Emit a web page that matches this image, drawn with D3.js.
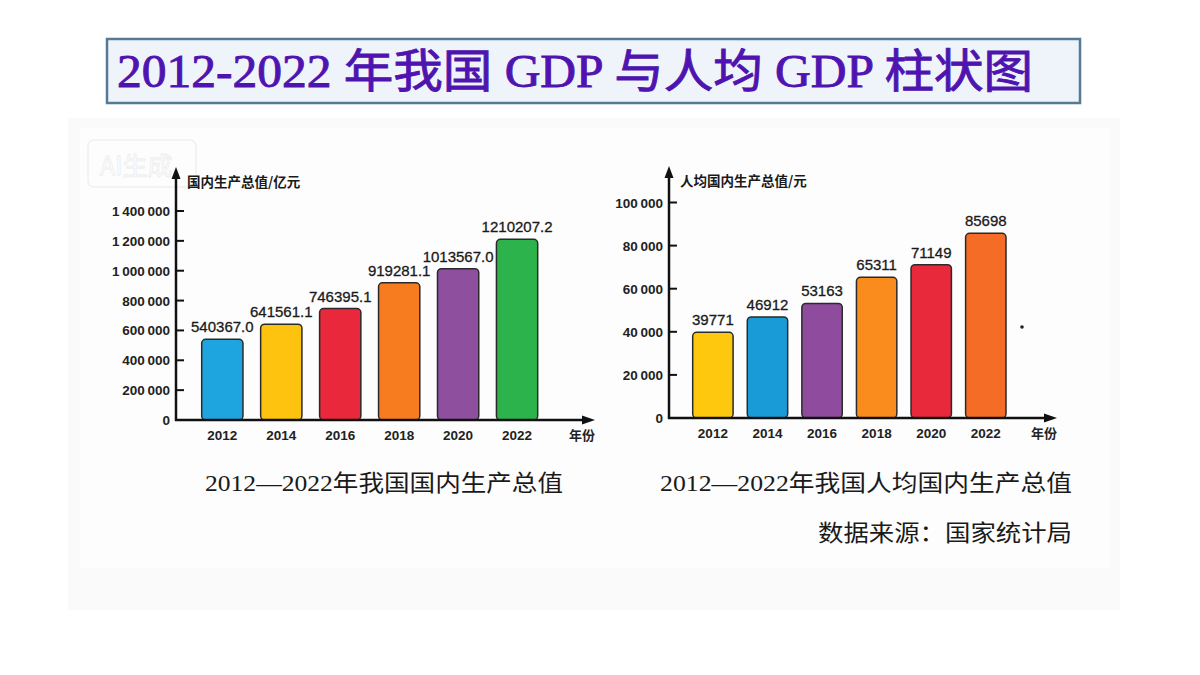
<!DOCTYPE html>
<html>
<head>
<meta charset="utf-8">
<script src="https://cdn.jsdelivr.net/npm/d3@7"></script>
<style>
  html, body { margin: 0; padding: 0; background: #fff; }
  svg { display: block; }
</style>
</head>
<body>
<svg id="chart" width="1200" height="675"></svg>
<script>
// data (国家统计局)
const years = ["2012", "2014", "2016", "2018", "2020", "2022"];
const gdpValues = [540367.0, 641561.1, 746395.1, 919281.1, 1013567.0, 1210207.2];
const gdpColors = ["#1ea4de", "#fec30f", "#e9283b", "#f77c1f", "#8f4f9f", "#2db34b"];
const gdpTicks = [0, 200000, 400000, 600000, 800000, 1000000, 1200000, 1400000];
const perCapitaValues = [39771, 46912, 53163, 65311, 71149, 85698];
const perCapitaColors = ["#fec80f", "#189bd6", "#8f4b9e", "#f98c1c", "#e8283b", "#f46c25"];
const perCapitaTicks = [0, 20000, 40000, 60000, 80000, 100000];

const titleText = "2012-2022 年我国 GDP 与人均 GDP 柱状图";

const svg = d3.select("#chart");
const fmtTick = d3.formatLocale({ decimal: ".", thousands: "\u2009", grouping: [3], currency: ["", ""] }).format(",d");

// faint photo background
svg.append("rect")
  .attr("x", 68).attr("y", 118).attr("width", 1052).attr("height", 492)
  .attr("fill", "#fafafa");
svg.append("rect")
  .attr("x", 80).attr("y", 128).attr("width", 1030).attr("height", 440)
  .attr("fill", "#fdfdfd");

// title box
svg.append("rect")
  .attr("x", 107).attr("y", 39).attr("width", 973).attr("height", 64)
  .attr("fill", "#eff4fb").attr("stroke", "#557a95").attr("stroke-width", 2.5);
svg.append("text")
  .attr("x", 117).attr("y", 87)
  .attr("font-family", "'Liberation Serif', 'Noto Sans CJK SC', serif")
  .attr("font-size", 46)
  .attr("fill", "#4f14b0").attr("stroke", "#4f14b0").attr("stroke-width", 0.9)
  .attr("textLength", 916).attr("lengthAdjust", "spacingAndGlyphs")
  .text(titleText);

// watermark
svg.append("rect")
  .attr("x", 88).attr("y", 140).attr("width", 108).attr("height", 47).attr("rx", 6)
  .attr("fill", "none").attr("stroke", "#efefef").attr("stroke-width", 1.5);
svg.append("text")
  .attr("x", 100).attr("y", 175)
  .attr("font-family", "'Noto Sans CJK SC', sans-serif")
  .attr("font-size", 25)
  .attr("fill", "#ffffff").attr("stroke", "#ececec").attr("stroke-width", 0.8)
  .text("AI生成");

function drawChart(opt) {
  const g = svg.append("g");
  const x = d3.scaleBand().domain(years).range(opt.xRange).paddingInner(opt.padInner).paddingOuter(0);
  const y = d3.scaleLinear().domain(opt.yDomain).range(opt.yRange);
  const ax = opt.axisX, y0 = y(0);

  // y axis ticks + labels
  g.selectAll(".tick")
    .data(opt.ticks)
    .enter()
    .append("line")
    .attr("x1", ax).attr("x2", ax + 8)
    .attr("y1", (d) => y(d)).attr("y2", (d) => y(d))
    .attr("stroke", "#111").attr("stroke-width", 2);

  g.selectAll(".tlabel")
    .data(opt.ticks)
    .enter()
    .append("text")
    .attr("x", ax - 6).attr("y", (d) => y(d) + 5)
    .attr("text-anchor", "end")
    .attr("font-family", "'Liberation Sans', Arial, sans-serif")
    .attr("font-size", 13.5).attr("font-weight", "bold")
    .attr("fill", "#222")
    .text((d) => fmtTick(d));

  // bars
  g.selectAll(".bar")
    .data(opt.values)
    .enter()
    .append("rect")
    .attr("x", (d, i) => x(years[i]))
    .attr("y", (d) => y(d))
    .attr("width", x.bandwidth())
    .attr("height", (d) => y0 - y(d))
    .attr("rx", 4)
    .attr("fill", (d, i) => opt.colors[i])
    .attr("stroke", "#2a2a2a").attr("stroke-width", 1.5);

  // value labels
  g.selectAll(".vlabel")
    .data(opt.values)
    .enter()
    .append("text")
    .attr("x", (d, i) => x(years[i]) + x.bandwidth() / 2)
    .attr("y", (d) => y(d) - 7)
    .attr("text-anchor", "middle")
    .attr("font-family", "'Liberation Sans', Arial, sans-serif")
    .attr("font-size", 15)
    .attr("fill", "#1a1a1a").attr("stroke", "#1a1a1a").attr("stroke-width", 0.3)
    .text((d) => opt.fmt(d));

  // year labels
  g.selectAll(".xlabel")
    .data(years)
    .enter()
    .append("text")
    .attr("x", (d) => x(d) + x.bandwidth() / 2)
    .attr("y", y0 + 20)
    .attr("text-anchor", "middle")
    .attr("font-family", "'Liberation Sans', Arial, sans-serif")
    .attr("font-size", 13.5).attr("font-weight", "bold")
    .attr("fill", "#222")
    .text((d) => d);

  // axes with arrows
  g.append("line")
    .attr("x1", ax).attr("x2", ax).attr("y1", y0 + 1).attr("y2", opt.arrowTop + 8)
    .attr("stroke", "#111").attr("stroke-width", 2.5);
  g.append("path")
    .attr("d", `M${ax},${opt.arrowTop} L${ax - 4.5},${opt.arrowTop + 12} L${ax + 4.5},${opt.arrowTop + 12} Z`)
    .attr("fill", "#111");
  g.append("line")
    .attr("x1", ax - 1).attr("x2", opt.arrowRight - 8).attr("y1", y0).attr("y2", y0)
    .attr("stroke", "#111").attr("stroke-width", 2.5);
  g.append("path")
    .attr("d", `M${opt.arrowRight},${y0} L${opt.arrowRight - 13},${y0 - 4.5} L${opt.arrowRight - 13},${y0 + 4.5} Z`)
    .attr("fill", "#111");

  g.append("text")
    .attr("x", opt.arrowRight).attr("y", y0 + 20)
    .attr("text-anchor", "end")
    .attr("font-family", "'Noto Sans CJK SC', sans-serif")
    .attr("font-size", 13).attr("font-weight", "bold")
    .attr("fill", "#222")
    .text("年份");

  g.append("text")
    .attr("x", ax + 11).attr("y", opt.arrowTop + 20)
    .attr("font-family", "'Noto Sans CJK SC', sans-serif")
    .attr("font-size", 13.5).attr("font-weight", "bold")
    .attr("fill", "#1a1a1a")
    .text(opt.yTitle);

  g.append("text")
    .attr("x", opt.captionX).attr("y", 491)
    .attr("font-family", "'Liberation Serif', 'Noto Sans CJK SC', serif")
    .attr("font-size", 23)
    .attr("fill", "#1a1a1a")
    .attr("textLength", opt.captionLen).attr("lengthAdjust", "spacingAndGlyphs")
    .text(opt.caption);
}

drawChart({
  values: gdpValues, colors: gdpColors, ticks: gdpTicks,
  xRange: [201.7, 537.7], padInner: 0.3,
  yDomain: [0, 1400000], yRange: [420, 211],
  axisX: 176, arrowTop: 167, arrowRight: 595,
  fmt: d3.format(".1f"),
  yTitle: "国内生产总值/亿元",
  caption: "2012—2022年我国国内生产总值", captionX: 205, captionLen: 358
});

drawChart({
  values: perCapitaValues, colors: perCapitaColors, ticks: perCapitaTicks,
  xRange: [692.7, 1006], padInner: 0.26,
  yDomain: [0, 100000], yRange: [418, 202.5],
  axisX: 669, arrowTop: 166, arrowRight: 1057,
  fmt: d3.format("d"),
  yTitle: "人均国内生产总值/元",
  caption: "2012—2022年我国人均国内生产总值", captionX: 660, captionLen: 412
});

svg.append("text")
  .attr("x", 1072).attr("y", 541)
  .attr("text-anchor", "end")
  .attr("font-family", "'Noto Sans CJK SC', sans-serif")
  .attr("font-size", 23)
  .attr("fill", "#1a1a1a")
  .attr("textLength", 254).attr("lengthAdjust", "spacingAndGlyphs")
  .text("数据来源：国家统计局");

svg.append("circle").attr("cx", 1022).attr("cy", 327).attr("r", 1.8).attr("fill", "#222");
</script>
</body>
</html>
